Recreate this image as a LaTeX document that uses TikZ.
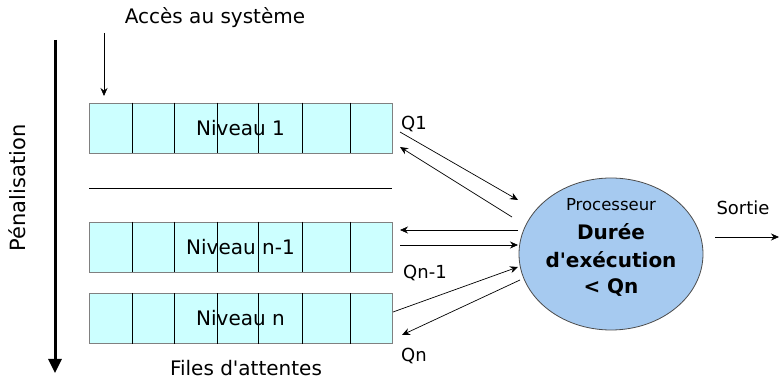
\documentclass[tikz,border=0pt]{standalone}
\usepackage{fontspec}
\setmainfont{DejaVu Sans}[Ligatures=TeXOff]
\usetikzlibrary{arrows.meta,shapes.geometric,calc}
\definecolor{qfill}{HTML}{CCFFFF}
\definecolor{cfill}{HTML}{A6CAF0}
\begin{document}
\begin{tikzpicture}[x=1pt,y=-1pt,
  lbl/.style={inner sep=0pt,font=\fontsize{20}{22}\selectfont},
  qlbl/.style={inner sep=0pt,font=\fontsize{18}{20}\selectfont},
  bold/.style={inner sep=0pt,font=\bfseries\fontsize{20}{22}\selectfont},
  queue/.style={draw=gray,fill=qfill,minimum width=303pt,minimum height=50pt,inner sep=0pt,line width=0.8pt},
  arr/.style={-{Stealth[length=8pt,width=7pt]},line width=0.7pt}]
\useasboundingbox (0,0) rectangle (780,382);
% queues
\foreach \n/\y/\t in {q1/128/{Niveau 1},qa/247/{Niveau n-1},qb/318.5/{Niveau n}}{
  \node[queue] (\n) at (240.5,\y) {};
  \foreach \x in {132,174,217,258,302,350}
    \draw[line width=0.8pt] (\x,0 |- \n.north) -- (\x,0 |- \n.south);
  \node[lbl] at (\n.center) {\t};
}
\draw[line width=0.8pt] (89,188) -- (392,188);
% labels
\node[lbl] (acc) at (215,18) {Accès au système};
\coordinate (accs) at (104,33);
\coordinate (acce) at (104,96);
\draw[arr] (accs) -- (acce);
\node[lbl] (files) at (246,368) {Files d'attentes};
\node[lbl,font=\fontsize{21}{23}\selectfont,rotate=90] (pen) at (17,188) {Pénalisation};
\coordinate (pa) at (55,40);
\coordinate (pb) at (55,373);
\draw[line width=3pt,-{Triangle[length=14pt,width=13pt]}] (pa) -- (pb);
% processor
\node[ellipse,draw=black!70,fill=cfill,minimum width=184pt,minimum height=152pt,line width=0.8pt] (cpu) at (611,254) {};
\node[inner sep=0pt,font=\fontsize{16.5}{18}\selectfont] at (611,205) {Processeur};
\node[bold] at (611,232) {Durée};
\node[bold] at (611,260) {d'exécution};
\node[bold] at (611,288) {< Qn};
% sortie
\node[qlbl] (sortie) at (743,208) {Sortie};
\coordinate (s1) at (715,237);
\coordinate (s2) at (779,237);
\draw[arr] (s1) -- (s2);
% Q arrows
\node[qlbl] (lq1) at (414,124) {Q1};
\node[qlbl] (lqa) at (425,273) {Qn-1};
\node[qlbl] (lqb) at (414,356) {Qn};
\coordinate (a1) at (400,132); \coordinate (a2) at (518,200);
\coordinate (b1) at (512,217); \coordinate (b2) at (400,147);
\draw[arr] (a1) -- (a2);
\draw[arr] (b1) -- (b2);
\coordinate (c1) at (518,230); \coordinate (c2) at (400,230);
\coordinate (d1) at (400,245); \coordinate (d2) at (518,245);
\draw[arr] (c1) -- (c2);
\draw[arr] (d1) -- (d2);
\coordinate (e1) at (393,312); \coordinate (e2) at (518,267);
\coordinate (f1) at (520,280); \coordinate (f2) at (402,335);
\draw[arr] (e1) -- (e2);
\draw[arr] (f1) -- (f2);
\end{tikzpicture}
\end{document}
